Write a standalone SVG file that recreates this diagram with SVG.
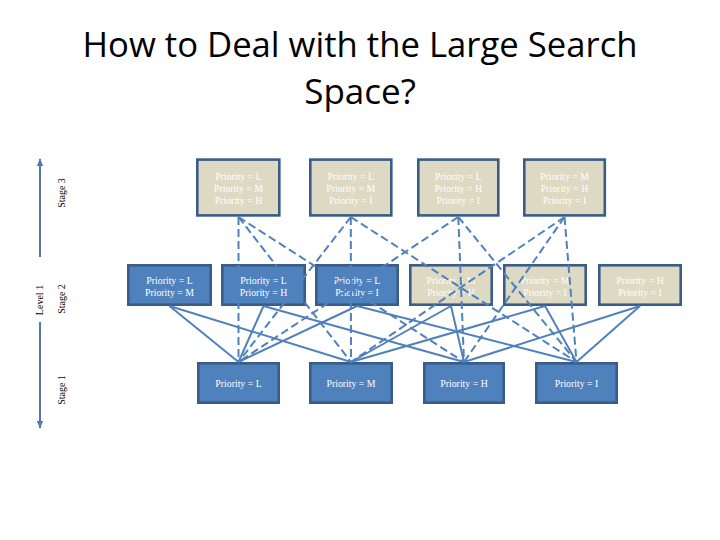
<svg xmlns="http://www.w3.org/2000/svg" width="720" height="540" viewBox="0 0 720 540">
<defs>
<style>
.bx{stroke:#3A5C88;stroke-width:2.6}
.blue{fill:#4F81BD}
.tan{fill:#DDD9C3}
.t{font-family:"Liberation Serif","Times New Roman",serif;font-size:9.8px;fill:#FFFFFF;text-anchor:middle}
.lbl{font-family:"Liberation Serif","Times New Roman",serif;font-size:10px;fill:#000000;text-anchor:middle}
.title{font-family:"Open Sans","Noto Sans","Liberation Sans",sans-serif;font-size:35px;fill:#000000;text-anchor:middle}
.c{stroke:#4F81BD;stroke-width:2;fill:none}
.d{stroke-dasharray:8 4}
.ax{stroke:#5079B0;stroke-width:2;fill:none}
</style>
<marker id="ah" viewBox="0 0 10 10" refX="9" refY="5" markerWidth="4" markerHeight="4" orient="auto-start-reverse">
<path d="M0,1 L10,5 L0,9 z" fill="#5079B0"/>
</marker>
</defs>
<rect width="720" height="540" fill="#FFFFFF"/>
<g id="title">
<text class="title" x="360" y="57" textLength="555" lengthAdjust="spacingAndGlyphs">How to Deal with the Large Search</text>
<text class="title" x="360" y="104">Space?</text>
</g>
<g id="axis">
<line class="ax" x1="40" y1="257" x2="40" y2="159" marker-end="url(#ah)"/>
<line class="ax" x1="40" y1="322" x2="40" y2="428" marker-end="url(#ah)"/>
<text class="lbl" transform="translate(42.5,300) rotate(-90)">Level 1</text>
<text class="lbl" transform="translate(65,193) rotate(-90)">Stage 3</text>
<text class="lbl" transform="translate(65,299) rotate(-90)">Stage 2</text>
<text class="lbl" transform="translate(65,390) rotate(-90)">Stage 1</text>
</g>
<g id="s3-lmh"><rect class="bx tan" x="197.3" y="159.6" width="82" height="55.8"/><text class="t" x="238.5" y="179.5">Priority = L</text><text class="t" x="238.5" y="191.8">Priority = M</text><text class="t" x="238.5" y="204.1">Priority = H</text></g>
<g id="s3-lmi"><rect class="bx tan" x="310.3" y="159.6" width="81" height="55.8"/><text class="t" x="350.8" y="179.5">Priority = L</text><text class="t" x="350.8" y="191.8">Priority = M</text><text class="t" x="350.8" y="204.1">Priority = I</text></g>
<g id="s3-lhi"><rect class="bx tan" x="418.3" y="159.6" width="80" height="55.8"/><text class="t" x="458.3" y="179.5">Priority = L</text><text class="t" x="458.3" y="191.8">Priority = H</text><text class="t" x="458.3" y="204.1">Priority = I</text></g>
<g id="s3-mhi"><rect class="bx tan" x="524.3" y="159.6" width="80.5" height="55.8"/><text class="t" x="564.5" y="179.5">Priority = M</text><text class="t" x="564.5" y="191.8">Priority = H</text><text class="t" x="564.5" y="204.1">Priority = I</text></g>
<g id="s2-lm"><rect class="bx blue" x="128.3" y="265.3" width="82.4" height="39.4"/><text class="t" x="169.5" y="284">Priority = L</text><text class="t" x="169.5" y="295.6">Priority = M</text></g>
<g id="s2-lh"><rect class="bx blue" x="222.3" y="265.3" width="82.4" height="39.4"/><text class="t" x="263.5" y="284">Priority = L</text><text class="t" x="263.5" y="295.6">Priority = H</text></g>
<g id="s2-li"><rect class="bx blue" x="316.3" y="265.3" width="81.4" height="39.4"/><text class="t" x="357" y="284">Priority = L</text><text class="t" x="357" y="295.6">Priority = I</text></g>
<g id="s2-mh"><rect class="bx tan" x="410.3" y="265.3" width="81.4" height="39.4"/><text class="t" x="451" y="284">Priority = M</text><text class="t" x="451" y="295.6">Priority = H</text></g>
<g id="s2-mi"><rect class="bx tan" x="504.3" y="265.3" width="81.4" height="39.4"/><text class="t" x="545" y="284">Priority = M</text><text class="t" x="545" y="295.6">Priority = I</text></g>
<g id="s2-hi"><rect class="bx tan" x="599.3" y="265.3" width="81.4" height="39.4"/><text class="t" x="640" y="284">Priority = H</text><text class="t" x="640" y="295.6">Priority = I</text></g>
<g id="s1-l"><rect class="bx blue" x="198.3" y="363.3" width="80.4" height="39.4"/><text class="t" x="238.5" y="387">Priority = L</text></g>
<g id="s1-m"><rect class="bx blue" x="310.3" y="363.3" width="81.4" height="39.4"/><text class="t" x="351" y="387">Priority = M</text></g>
<g id="s1-h"><rect class="bx blue" x="424.3" y="363.3" width="79.4" height="39.4"/><text class="t" x="464" y="387">Priority = H</text></g>
<g id="s1-i"><rect class="bx blue" x="536.3" y="363.3" width="80.4" height="39.4"/><text class="t" x="576.5" y="387">Priority = I</text></g>
<g id="connectors">
<g class="c d">
<line x1="238.5" y1="217" x2="238.5" y2="362"/>
<line x1="238.5" y1="217" x2="351" y2="362"/>
<line x1="238.5" y1="217" x2="464" y2="362"/>
<line x1="350.8" y1="217" x2="238.5" y2="362"/>
<line x1="350.8" y1="217" x2="351" y2="362"/>
<line x1="350.8" y1="217" x2="576.5" y2="362"/>
<line x1="458.3" y1="217" x2="238.5" y2="362"/>
<line x1="458.3" y1="217" x2="464" y2="362"/>
<line x1="458.3" y1="217" x2="576.5" y2="362"/>
<line x1="564.5" y1="217" x2="351" y2="362"/>
<line x1="564.5" y1="217" x2="464" y2="362"/>
<line x1="564.5" y1="217" x2="576.5" y2="362"/>
</g>
<g class="c">
<line x1="169.5" y1="306" x2="238.5" y2="362"/>
<line x1="169.5" y1="306" x2="351" y2="362"/>
<line x1="263.5" y1="306" x2="238.5" y2="362"/>
<line x1="263.5" y1="306" x2="464" y2="362"/>
<line x1="357" y1="306" x2="238.5" y2="362"/>
<line x1="357" y1="306" x2="576.5" y2="362"/>
<line x1="451" y1="306" x2="351" y2="362"/>
<line x1="451" y1="306" x2="464" y2="362"/>
<line x1="545" y1="306" x2="351" y2="362"/>
<line x1="545" y1="306" x2="576.5" y2="362"/>
<line x1="640" y1="306" x2="464" y2="362"/>
<line x1="640" y1="306" x2="576.5" y2="362"/>
</g>
</g>
</svg>
